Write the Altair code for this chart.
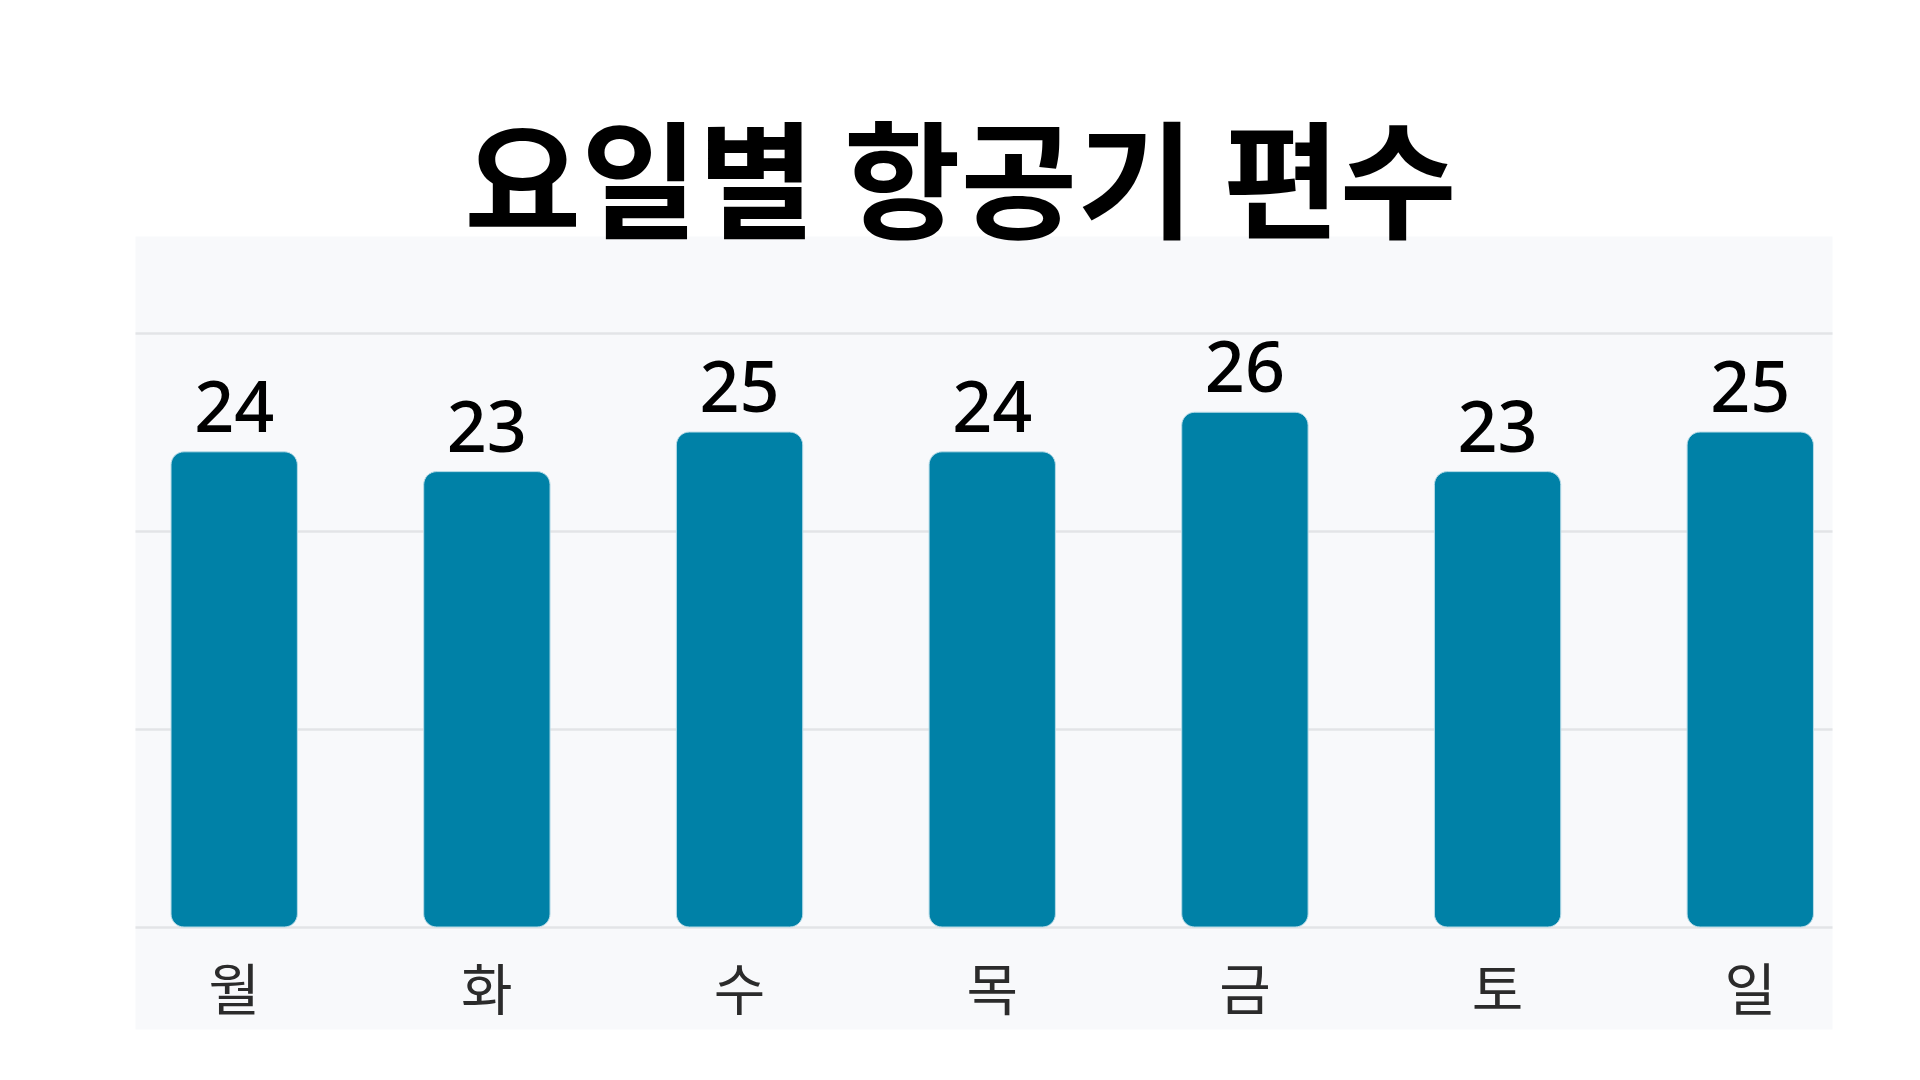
import altair as alt
import pandas as pd

# data
days = ["월", "화", "수", "목", "금", "토", "일"]
flights = [24, 23, 25, 24, 26, 23, 25]
grid_values = [0, 10, 20, 30]

df = pd.DataFrame({"day": days, "flights": flights})

y_scale = alt.Scale(domain=[-5.15, 34.9], nice=False, zero=False)

base = alt.Chart(df).encode(
    x=alt.X("day:N", sort=days, axis=None,
            scale=alt.Scale(paddingInner=0.5, paddingOuter=0.108, align=0.66))
)

bars = base.mark_bar(color="#0081a7", cornerRadius=13, stroke="#b8dce8", strokeWidth=1).encode(
    y=alt.Y("flights:Q", scale=y_scale,
            axis=alt.Axis(values=grid_values, labels=False, ticks=False, domain=False,
                          title=None, gridColor="#e3e4e7", gridWidth=2.5)),
    y2=alt.datum(0),
)

values = base.mark_text(font="Noto Sans", fontSize=70, fontWeight=500, baseline="alphabetic",
                        dy=-20, color="#000000").encode(
    y=alt.Y("flights:Q", scale=y_scale),
    text="flights:Q",
)

# day names sit under the baseline, inside the grey panel
day_labels = base.mark_text(font="Noto Sans CJK KR", fontSize=56, baseline="middle", dy=66, color="#2b2b2b").encode(
    y=alt.datum(0),
    text="day:N",
)

chart = alt.layer(bars, values, day_labels).properties(
    width=1697,
    height=793,
    background="white",
    title=alt.TitleParams("요일별 항공기 편수", font="Noto Sans CJK KR", fontSize=127, fontWeight="bold",
                          anchor="middle", dx=-23, offset=-120, baseline="alphabetic", color="#000000"),
    padding={"left": 127, "top": 119, "right": 80, "bottom": 42},
).configure_view(fill="#f8f9fb", stroke="transparent")

chart.save("out.html", embed_options={"renderer": "svg", "actions": False})
